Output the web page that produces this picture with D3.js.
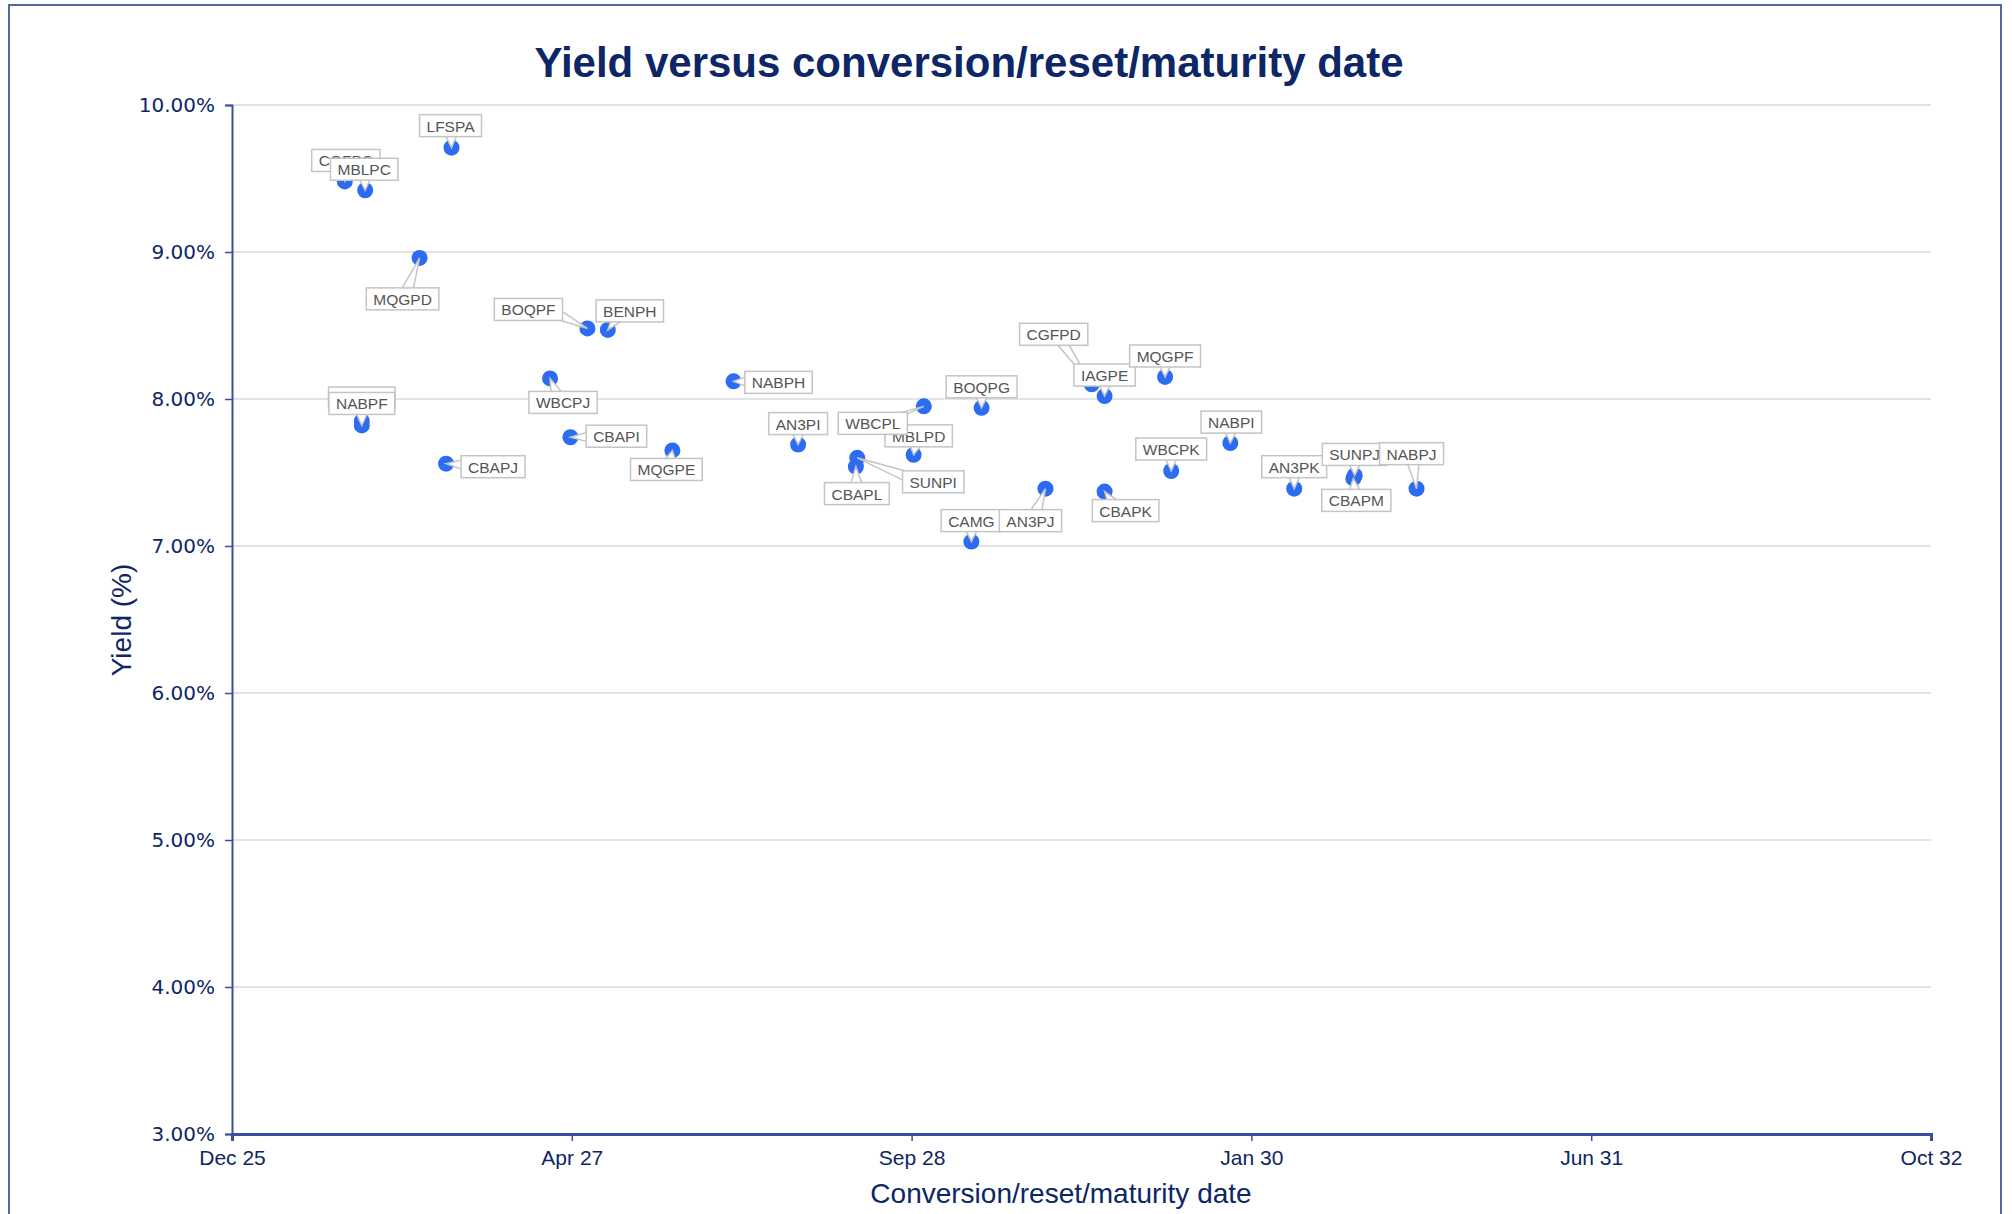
<!DOCTYPE html>
<html>
<head>
<meta charset="utf-8">
<script src="https://cdn.jsdelivr.net/npm/d3@7"></script>
<style>
  html, body { margin: 0; padding: 0; background: #ffffff; }
  svg { display: block; font-family: "Liberation Sans", Arial, Helvetica, sans-serif; }
</style>
</head>
<body>
<svg id="chart" width="2012" height="1214"></svg>
<script>
// ---------------- DATA ----------------
const names  = ["CGFPC","MBLPC","LFSPA","MQGPD","BOQPF","BENPH","NABPE","NABPF","CBAPJ","WBCPJ","CBAPI","MQGPE","NABPH","AN3PI","MBLPD","WBCPL","SUNPI","CBAPL","BOQPG","CAMG","AN3PJ","CGFPD","IAGPE","MQGPF","CBAPK","WBCPK","NABPI","AN3PK","SUNPJ","CBAPM","NABPJ"];
const dates  = ["2026-05-24","2026-06-23","2026-10-28","2026-09-11","2027-05-16","2027-06-15","2026-06-18","2026-06-18","2026-10-20","2027-03-22","2027-04-21","2027-09-18","2027-12-17","2028-03-21","2028-09-07","2028-09-22","2028-06-16","2028-06-14","2028-12-16","2028-12-01","2029-03-20","2029-05-27","2029-06-15","2029-09-12","2029-06-15","2029-09-21","2029-12-17","2030-03-21","2030-06-18","2030-06-16","2030-09-17"];
const yields = [9.48, 9.42, 9.71, 8.96, 8.48, 8.47, 7.85, 7.82, 7.56, 8.14, 7.74, 7.65, 8.12, 7.69, 7.62, 7.95, 7.60, 7.54, 7.94, 7.03, 7.39, 8.10, 8.02, 8.15, 7.37, 7.51, 7.70, 7.39, 7.48, 7.46, 7.39];
const xTickDates  = ["2025-12-09","2027-04-23","2028-09-04","2030-01-17","2031-06-01","2032-10-13"];
const yTickValues = [3, 4, 5, 6, 7, 8, 9, 10];
const titleText = "Yield versus conversion/reset/maturity date";
const xTitle = "Conversion/reset/maturity date";
const yTitle = "Yield (%)";

// ---------------- LAYOUT (label callout offsets, px) ----------------
const labelDx = [1, -1, -1, -17, -59, 22, 0, 0, 47, 13, 46, -6, 45, 0, 5, -51, 76, 1, 0, 0, -15, -38, 0, 0, 21, 0, 1, 0, 0, 3, -5];
const labelDy = [-21, -21, -22, 41, -19, -19, -23, -22, 3, 24, -1, 19, 1, -21, -19, 17, 24, 27, -21, -21, 32, -50, -21, -21, 19, -22, -21, -22, -21, 22, -35];

// ---------------- CHART ----------------
const parse = d3.timeParse("%Y-%m-%d");
const data = names.map((n, i) => ({ name: n, date: parse(dates[i]), y: yields[i], dx: labelDx[i], dy: labelDy[i] }));

const svg = d3.select("#chart");
const W = 2012, H = 1214;
const m = { left: 232, right: 2012 - 1931, top: 105, bottom: 1214 - 1134 };

const navy = "#0d2666";
const axisCol = "#3a4f9c";

// outer frame
svg.append("rect").attr("x", 9).attr("y", 5).attr("width", 1992).attr("height", 1230)
  .attr("fill", "none").attr("stroke", "#5266a6").attr("stroke-width", 2);

const x = d3.scaleTime()
  .domain([parse(xTickDates[0]), parse(xTickDates[xTickDates.length - 1])])
  .range([m.left, W - m.right]);
const y = d3.scaleLinear().domain([3, 10]).range([H - m.bottom, m.top]);

// gridlines
svg.append("g").selectAll("line").data(yTickValues.filter(v => v > 3)).join("line")
  .attr("x1", m.left).attr("x2", W - m.right)
  .attr("y1", d => y(d)).attr("y2", d => y(d))
  .attr("stroke", "#e3e3e3").attr("stroke-width", 2);

// y axis
const yAxis = svg.append("g").attr("transform", `translate(${m.left},0)`)
  .call(d3.axisLeft(y).tickValues(yTickValues).tickFormat(d => d.toFixed(2) + "%").tickSize(7).tickPadding(10));
yAxis.select(".domain").attr("stroke", axisCol).attr("stroke-width", 2);
yAxis.selectAll(".tick line").attr("stroke", axisCol).attr("stroke-width", 1.5);
yAxis.selectAll(".tick text").attr("fill", navy).attr("font-size", 20).attr("font-family", "\"DejaVu Sans\", Verdana, sans-serif");

// x axis
const xAxis = svg.append("g").attr("transform", `translate(0,${H - m.bottom})`)
  .call(d3.axisBottom(x).tickValues(xTickDates.map(parse)).tickFormat(d3.timeFormat("%b %y")).tickSize(7).tickPadding(9));
xAxis.select(".domain").attr("stroke", axisCol).attr("stroke-width", 3);
xAxis.selectAll(".tick line").attr("stroke", axisCol).attr("stroke-width", 1.5);
xAxis.selectAll(".tick text").attr("fill", navy).attr("font-size", 21).attr("font-family", "\"Liberation Sans\", Arial, sans-serif");

// titles
svg.append("text").attr("x", 969).attr("y", 77).attr("text-anchor", "middle")
  .attr("font-size", 42).attr("font-weight", "bold").attr("fill", navy).text(titleText);
svg.append("text").attr("x", 1061).attr("y", 1203).attr("text-anchor", "middle")
  .attr("font-size", 28).attr("fill", navy).text(xTitle);
svg.append("text").attr("transform", "translate(131,620) rotate(-90)").attr("text-anchor", "middle")
  .attr("font-size", 28).attr("fill", navy).text(yTitle);

// points
svg.append("g").selectAll("circle").data(data).join("circle")
  .attr("cx", d => x(d.date)).attr("cy", d => y(d.y)).attr("r", 8)
  .attr("fill", "#2c6cf2");

// callouts
const fs = 15.5, padX = 7, boxH = 22;
const measurer = svg.append("text").attr("font-size", fs).attr("visibility", "hidden");
const callG = svg.append("g");
data.forEach(d => {
  measurer.text(d.name);
  const tw = measurer.node().getComputedTextLength();
  const bw = tw + padX * 2, bh = boxH;
  const px = x(d.date), py = y(d.y);
  const bx = px + d.dx, by = py + d.dy;
  // tail
  const vx = px - bx, vy = py - by;
  const tx = Math.abs(vx) > 1e-6 ? (bw / 2) / Math.abs(vx) : Infinity;
  const ty = Math.abs(vy) > 1e-6 ? (bh / 2) / Math.abs(vy) : Infinity;
  const t = Math.min(tx, ty);
  const ex = bx + vx * t, ey = by + vy * t;
  let p1, p2;
  if (ty <= tx) {
    const cx = Math.max(bx - bw / 2 + 7, Math.min(bx + bw / 2 - 7, ex));
    const iy = ey - Math.sign(vy) * 2;
    p1 = [cx - 6, iy]; p2 = [cx + 6, iy];
  } else {
    const cy = Math.max(by - bh / 2 + 5, Math.min(by + bh / 2 - 5, ey));
    const ix = ex - Math.sign(vx) * 2;
    p1 = [ix, cy - 5]; p2 = [ix, cy + 5];
  }
  const g = callG.append("g");
  g.append("path").attr("d", d3.line()([p1, [px, py], p2]) + "Z")
    .attr("fill", "#ffffff").attr("stroke", "#c4c4c4").attr("stroke-width", 1.5);
  g.append("rect").attr("x", bx - bw / 2).attr("y", by - bh / 2).attr("width", bw).attr("height", bh)
    .attr("fill", "#ffffff").attr("stroke", "#c4c4c4").attr("stroke-width", 1.5);
  g.append("text").attr("x", bx).attr("y", by + 6).attr("text-anchor", "middle")
    .attr("font-size", fs).attr("fill", "#555555").text(d.name);
});
measurer.remove();
</script>
</body>
</html>
